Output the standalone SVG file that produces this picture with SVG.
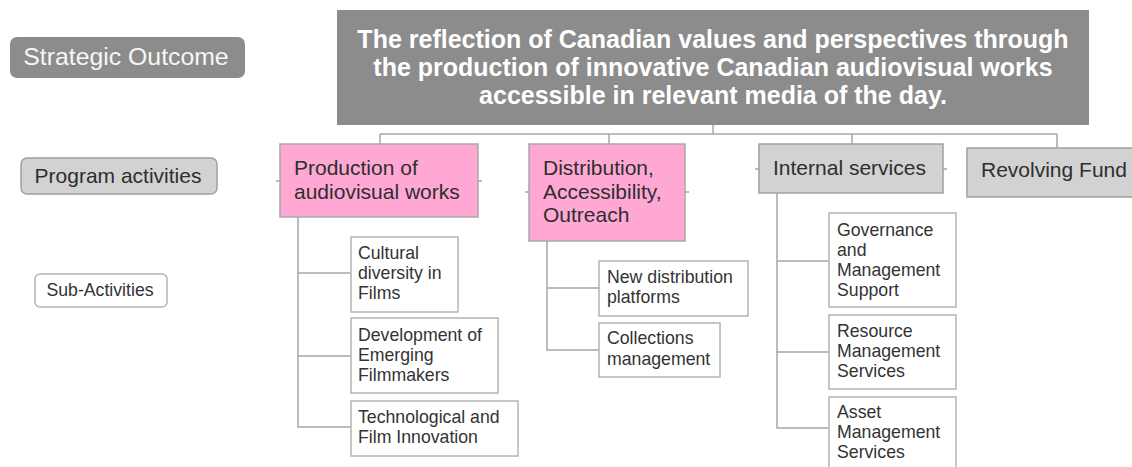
<svg xmlns="http://www.w3.org/2000/svg" width="1132" height="467" viewBox="0 0 1132 467">
<style>
text{font-family:"Liberation Sans",Arial,sans-serif;fill:#2e2e2e}
.lbl{font-size:21px}
.sub{font-size:17.7px;fill:#333}
.dark{fill:#8c8c8c}
.pink{fill:#ffa8d4;stroke:#a8a8a8;stroke-width:1.5}
.grey{fill:#d2d2d2;stroke:#a0a0a0;stroke-width:1.5}
.white{fill:#fff;stroke:#b4b4b4;stroke-width:1.5}
.conn line,.conn polyline{stroke:#a6a6a6;stroke-width:1.5;fill:none}
</style>
<rect width="1132" height="467" fill="#fff"/>
<g id="legend-strategic">
<rect x="10" y="37" width="235" height="41" rx="7" class="dark"/>
<text x="126" y="65" text-anchor="middle" style="font-size:24.8px;fill:#f6f6f6">Strategic Outcome</text>
</g>
<g id="legend-program">
<rect x="21" y="158" width="196" height="36" rx="6" class="grey"/>
<text x="118" y="183" text-anchor="middle" class="lbl">Program activities</text>
</g>
<g id="legend-sub">
<rect x="35" y="274" width="132" height="33" rx="5" class="white"/>
<text x="100" y="296" text-anchor="middle" class="sub">Sub-Activities</text>
</g>
<g class="conn" id="connectors">
<line x1="713" y1="125" x2="713" y2="134"/>
<line x1="380" y1="134" x2="1057" y2="134"/>
<line x1="380" y1="134" x2="380" y2="144"/>
<line x1="609" y1="134" x2="609" y2="144"/>
<line x1="852" y1="134" x2="852" y2="144"/>
<line x1="1057" y1="134" x2="1057" y2="148"/>
<line x1="276" y1="181" x2="280" y2="181"/>
<line x1="478" y1="181" x2="482" y2="181"/>
<line x1="525" y1="192" x2="529" y2="192"/>
<line x1="685" y1="192" x2="689" y2="192"/>
<line x1="755" y1="169" x2="759" y2="169"/>
<line x1="943" y1="169" x2="947" y2="169"/>
<polyline points="298,217 298,427 351,427"/>
<line x1="298" y1="273" x2="351" y2="273"/>
<line x1="298" y1="356" x2="351" y2="356"/>
<polyline points="547,241 547,350 599,350"/>
<line x1="547" y1="288" x2="599" y2="288"/>
<polyline points="777,193 777,428 829,428"/>
<line x1="777" y1="261" x2="829" y2="261"/>
<line x1="777" y1="352" x2="829" y2="352"/>
</g>
<g id="outcome">
<rect x="337" y="10" width="752" height="115" class="dark"/>
<g style="font-size:25px;font-weight:bold" text-anchor="middle">
<text x="713" y="48" style="fill:#fff">The reflection of Canadian values and perspectives through</text>
<text x="713" y="76" style="fill:#fff">the production of innovative Canadian audiovisual works</text>
<text x="713" y="104" style="fill:#fff">accessible in relevant media of the day.</text>
</g>
</g>
<g id="production">
<rect x="280" y="144" width="198" height="73" class="pink"/>
<text x="294" y="175" class="lbl">Production of</text>
<text x="294" y="199" class="lbl">audiovisual works</text>
</g>
<g id="distribution">
<rect x="529" y="144" width="156" height="97" class="pink"/>
<text x="543" y="175" class="lbl">Distribution,</text>
<text x="543" y="199" class="lbl">Accessibility,</text>
<text x="543" y="222" class="lbl">Outreach</text>
</g>
<g id="internal">
<rect x="759" y="144" width="184" height="49" class="grey"/>
<text x="773" y="175" class="lbl">Internal services</text>
</g>
<g id="revolving">
<rect x="967" y="148" width="170" height="49" class="grey"/>
<text x="981" y="177" class="lbl">Revolving Fund</text>
</g>
<g id="cultural">
<rect x="351" y="237" width="107" height="75" class="white"/>
<text x="358" y="259" class="sub">Cultural</text>
<text x="358" y="279" class="sub">diversity in</text>
<text x="358" y="299" class="sub">Films</text>
</g>
<g id="development">
<rect x="351" y="318" width="147" height="75" class="white"/>
<text x="358" y="341" class="sub">Development of</text>
<text x="358" y="361" class="sub">Emerging</text>
<text x="358" y="381" class="sub">Filmmakers</text>
</g>
<g id="technological">
<rect x="351" y="401" width="167" height="55" class="white"/>
<text x="358" y="423" class="sub">Technological and</text>
<text x="358" y="443" class="sub">Film Innovation</text>
</g>
<g id="newdist">
<rect x="599" y="261" width="149" height="55" class="white"/>
<text x="607" y="283" class="sub">New distribution</text>
<text x="607" y="303" class="sub">platforms</text>
</g>
<g id="collections">
<rect x="599" y="323" width="121" height="54" class="white"/>
<text x="607" y="344" class="sub">Collections</text>
<text x="607" y="365" class="sub">management</text>
</g>
<g id="governance">
<rect x="829" y="213" width="127" height="94" class="white"/>
<text x="837" y="236" class="sub">Governance</text>
<text x="837" y="256" class="sub">and</text>
<text x="837" y="276" class="sub">Management</text>
<text x="837" y="296" class="sub">Support</text>
</g>
<g id="resource">
<rect x="829" y="315" width="127" height="74" class="white"/>
<text x="837" y="337" class="sub">Resource</text>
<text x="837" y="357" class="sub">Management</text>
<text x="837" y="377" class="sub">Services</text>
</g>
<g id="asset">
<rect x="829" y="397" width="127" height="80" class="white"/>
<text x="837" y="418" class="sub">Asset</text>
<text x="837" y="438" class="sub">Management</text>
<text x="837" y="458" class="sub">Services</text>
</g>
</svg>
